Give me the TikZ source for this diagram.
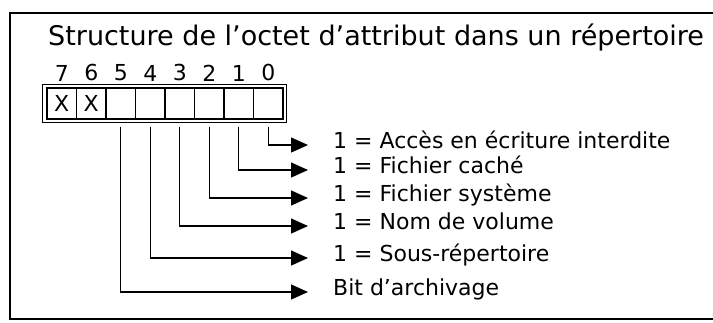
\documentclass[tikz,border=0pt]{standalone}
\usepackage{fontspec}
\setmainfont{DejaVu Sans}
\usetikzlibrary{arrows.meta, positioning, calc}

\begin{document}
\begin{tikzpicture}[
    x=1pt, y=1pt,
    every node/.style={font=\fontsize{22}{24}\selectfont},
    cell/.style={rectangle, draw, line width=1.2pt, minimum width=29.5pt,
                 minimum height=31pt, inner sep=0pt, font=\fontsize{22}{24}\selectfont},
    bitnum/.style={font=\fontsize{22}{24}\selectfont, inner sep=0pt},
    desc/.style={anchor=west, inner sep=0pt, text height=1.5ex, text depth=.25ex},
    conn/.style={-{Triangle[length=17pt, width=15pt]}, line width=1.3pt}
]
    \useasboundingbox (0,0) rectangle (713,-322);
    % cadre
    \draw[line width=1.6pt] (713,-13) -- (10,-13) -- (10,-319) -- (713,-319);
    \node[anchor=base west, inner sep=0pt, font=\fontsize{27}{30}\selectfont] (titre) at (48,-45)
        {Structure de l'octet d'attribut dans un répertoire};

    % cases de l'octet
    \foreach \i/\v in {7/X,6/X,5/,4/,3/,2/,1/,0/} {
        \node[cell] (b\i) at ({47+29.5*(7-\i)+14.75},-103.5) {\v};
        \node[bitnum, above=6pt of b\i] (n\i) {\i};
    }
    \draw[line width=1.2pt] ([shift={(-4pt,3pt)}]b7.north west) rectangle ([shift={(3pt,-3pt)}]b0.south east);

    % descriptions
    \node[desc] (d0) at (333,-145) {1 = Accès en écriture interdite};
    \node[desc] (d1) at (333,-170) {1 = Fichier caché};
    \node[desc] (d2) at (333,-198) {1 = Fichier système};
    \node[desc] (d3) at (333,-226) {1 = Nom de volume};
    \node[desc] (d4) at (333,-258) {1 = Sous-répertoire};
    \node[desc] (d5) at (333,-292) {Bit d'archivage};

    \foreach \i in {0,...,5}
        \draw[conn] ([yshift=-7pt]b\i.south) |- ([xshift=-25pt]d\i.west);
\end{tikzpicture}
\end{document}
